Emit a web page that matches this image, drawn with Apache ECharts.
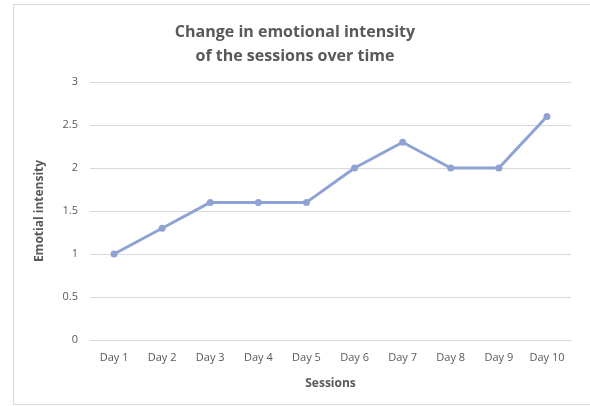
<!DOCTYPE html>
<html>
<head>
<meta charset="utf-8">
<script src="https://cdn.jsdelivr.net/npm/echarts@6/dist/echarts.min.js"></script>
<style>
  html, body { margin: 0; padding: 0; background: #fff; }
  #chart { width: 590px; height: 406px; }
</style>
</head>
<body>
<div id="chart"></div>
<script>
var days = ['Day 1', 'Day 2', 'Day 3', 'Day 4', 'Day 5', 'Day 6', 'Day 7', 'Day 8', 'Day 9', 'Day 10']
var intensity = [1, 1.3, 1.6, 1.6, 1.6, 2, 2.3, 2, 2, 2.6]

var font = 'Open Sans, Noto Sans, sans-serif'
var textColor = '#595959'

var chart = echarts.init(document.getElementById('chart'))

chart.setOption({
	animation: false,
	graphic: [{
		type: 'rect',
		shape: { x: 13.5, y: 4.5, width: 590, height: 400 },
		style: { fill: 'none', stroke: '#d9d9d9', lineWidth: 1 }
	}],
	title: {
		text: 'Change in emotional intensity\nof the sessions over time',
		left: 'center',
		top: 15,
		textStyle: {
			fontFamily: font,
			fontSize: 16,
			fontWeight: 'bold',
			color: textColor,
			lineHeight: 24
		}
	},
	grid: {
		left: 90,
		right: 19,
		top: 82,
		bottom: 66
	},
	xAxis: {
		type: 'category',
		data: days,
		name: 'Sessions',
		nameLocation: 'middle',
		nameGap: 38,
		nameTextStyle: { fontFamily: font, fontSize: 12, fontWeight: 'bold', color: textColor },
		axisLine: { lineStyle: { color: '#d9d9d9' } },
		axisTick: { show: false },
		axisLabel: { fontFamily: font, fontSize: 11, color: textColor, margin: 12 }
	},
	yAxis: {
		type: 'value',
		min: 0,
		max: 3,
		interval: 0.5,
		name: 'Emotial intensity',
		nameLocation: 'middle',
		nameGap: 44,
		nameTextStyle: { fontFamily: font, fontSize: 12, fontWeight: 'bold', color: textColor },
		axisLine: { show: false },
		axisTick: { show: false },
		axisLabel: { fontFamily: font, fontSize: 11, color: textColor, margin: 12 },
		splitLine: { lineStyle: { color: '#d9d9d9' } }
	},
	series: [{
		type: 'line',
		data: intensity,
		symbol: 'circle',
		symbolSize: 7,
		lineStyle: { color: '#8fa2d4', width: 3 },
		itemStyle: { color: '#8fa2d4' }
	}]
})
</script>
</body>
</html>
